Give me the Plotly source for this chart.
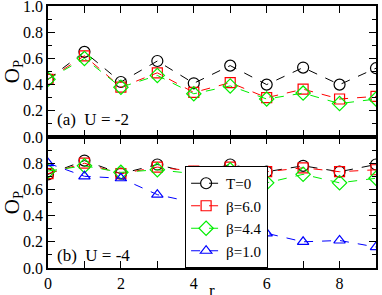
import plotly.graph_objects as go
from plotly.subplots import make_subplots

r = [0, 1, 2, 3, 4, 5, 6, 7, 8, 9]

# Panel (a) U = -2
a_T0 = [0.44, 0.65, 0.42, 0.58, 0.41, 0.545, 0.40, 0.53, 0.40, 0.525]
a_b60 = [0.44, 0.62, 0.38, 0.49, 0.34, 0.415, 0.30, 0.365, 0.29, 0.31]
a_b44 = [0.44, 0.60, 0.38, 0.47, 0.33, 0.39, 0.29, 0.335, 0.255, 0.29]

# Panel (b) U = -4
b_T0 = [0.715, 0.82, 0.72, 0.79, 0.72, 0.79, 0.735, 0.78, 0.735, 0.79]
b_b60 = [0.72, 0.80, 0.72, 0.77, 0.74, 0.77, 0.735, 0.765, 0.735, 0.75]
b_b44 = [0.74, 0.78, 0.73, 0.75, 0.72, 0.75, 0.65, 0.715, 0.65, 0.685]
b_b10 = [0.80, 0.70, 0.685, 0.56, 0.50, 0.39, 0.265, 0.20, 0.21, 0.16]

names = ["T=0", "β=6.0", "β=4.4", "β=1.0"]
colors = ["#000000", "#ff0000", "#00ee00", "#0000ff"]
symbols = ["circle-open", "square-open", "diamond-open", "triangle-up-open"]
sizes = [11, 10, 11, 10]

FONT = "Liberation Serif"

fig = make_subplots(rows=2, cols=1, shared_xaxes=False, vertical_spacing=0)

top = [a_T0, a_b60, a_b44]
bot = [b_T0, b_b60, b_b44, b_b10]

for i, ys in enumerate(top):
    fig.add_trace(go.Scatter(
        x=r, y=ys, mode="lines+markers", showlegend=False,
        line=dict(color=colors[i], width=1, dash="dash"),
        marker=dict(symbol=symbols[i], size=sizes[i], color=colors[i],
                    line=dict(color=colors[i], width=1.2)),
    ), row=1, col=1)

for i, ys in enumerate(bot):
    fig.add_trace(go.Scatter(
        x=r, y=ys, mode="lines+markers", name=names[i],
        line=dict(color=colors[i], width=1, dash="dash"),
        marker=dict(symbol=symbols[i], size=sizes[i], color=colors[i],
                    line=dict(color=colors[i], width=1.2)),
    ), row=2, col=1)

axis_common = dict(showline=True, linecolor="black", linewidth=1.5, mirror="ticks",
                   ticks="inside", tickcolor="black", tickwidth=1, showgrid=False,
                   zeroline=False, automargin=False, ticklabeloverflow="allow",
                   tickfont=dict(family=FONT, size=16, color="black"))

fig.update_xaxes(range=[0, 9], dtick=1, ticklen=7, showticklabels=False,
                 row=1, col=1, **axis_common)
fig.update_xaxes(range=[0, 9], tickvals=[0, 2, 4, 6, 8], ticklen=7,
                 minor=dict(ticks="inside", dtick=1, ticklen=7, tickcolor="black"),
                 row=2, col=1, **axis_common)

ytitle = dict(text="O<sub>P</sub>", font=dict(family=FONT, size=21, color="black"), standoff=8)
fig.update_yaxes(range=[0, 1], tickvals=[0, 0.2, 0.4, 0.6, 0.8, 1.0], tickformat=".1f", ticklen=7,
                 minor=dict(ticks="inside", dtick=0.1, ticklen=4, tickcolor="black"),
                 title=ytitle, row=1, col=1, **axis_common)
fig.update_yaxes(range=[0, 1], tickvals=[0, 0.2, 0.4, 0.6, 0.8], tickformat=".1f", ticklen=7,
                 minor=dict(ticks="inside", dtick=0.1, ticklen=4, tickcolor="black"),
                 title=ytitle, row=2, col=1, **axis_common)

fig.add_annotation(x=0.02, y=0.565, xref="paper", yref="paper", yanchor="middle", xanchor="left",
                   text="(a)  U = -2", showarrow=False,
                   font=dict(family=FONT, size=17, color="black"))
fig.add_annotation(x=0.02, y=0.046, xref="paper", yref="paper", yanchor="middle", xanchor="left",
                   text="(b)  U = -4", showarrow=False,
                   font=dict(family=FONT, size=17, color="black"))
fig.add_annotation(x=0.5, y=-0.084, xref="paper", yref="paper", yanchor="middle", xanchor="center",
                   text="r", showarrow=False,
                   font=dict(family=FONT, size=17, color="black"))

fig.update_layout(
    width=382, height=295,
    margin=dict(l=48, r=6, t=6, b=27),
    paper_bgcolor="white", plot_bgcolor="white",
    legend=dict(x=0.418, y=0.0, xanchor="left", yanchor="bottom",
                bgcolor="white", bordercolor="black", borderwidth=1,
                font=dict(family=FONT, size=15, color="black"),
                itemwidth=30, tracegroupgap=0),
)

fig.write_html("out.html", config={"displayModeBar": False},
               post_script="document.body.style.margin='0px';")
